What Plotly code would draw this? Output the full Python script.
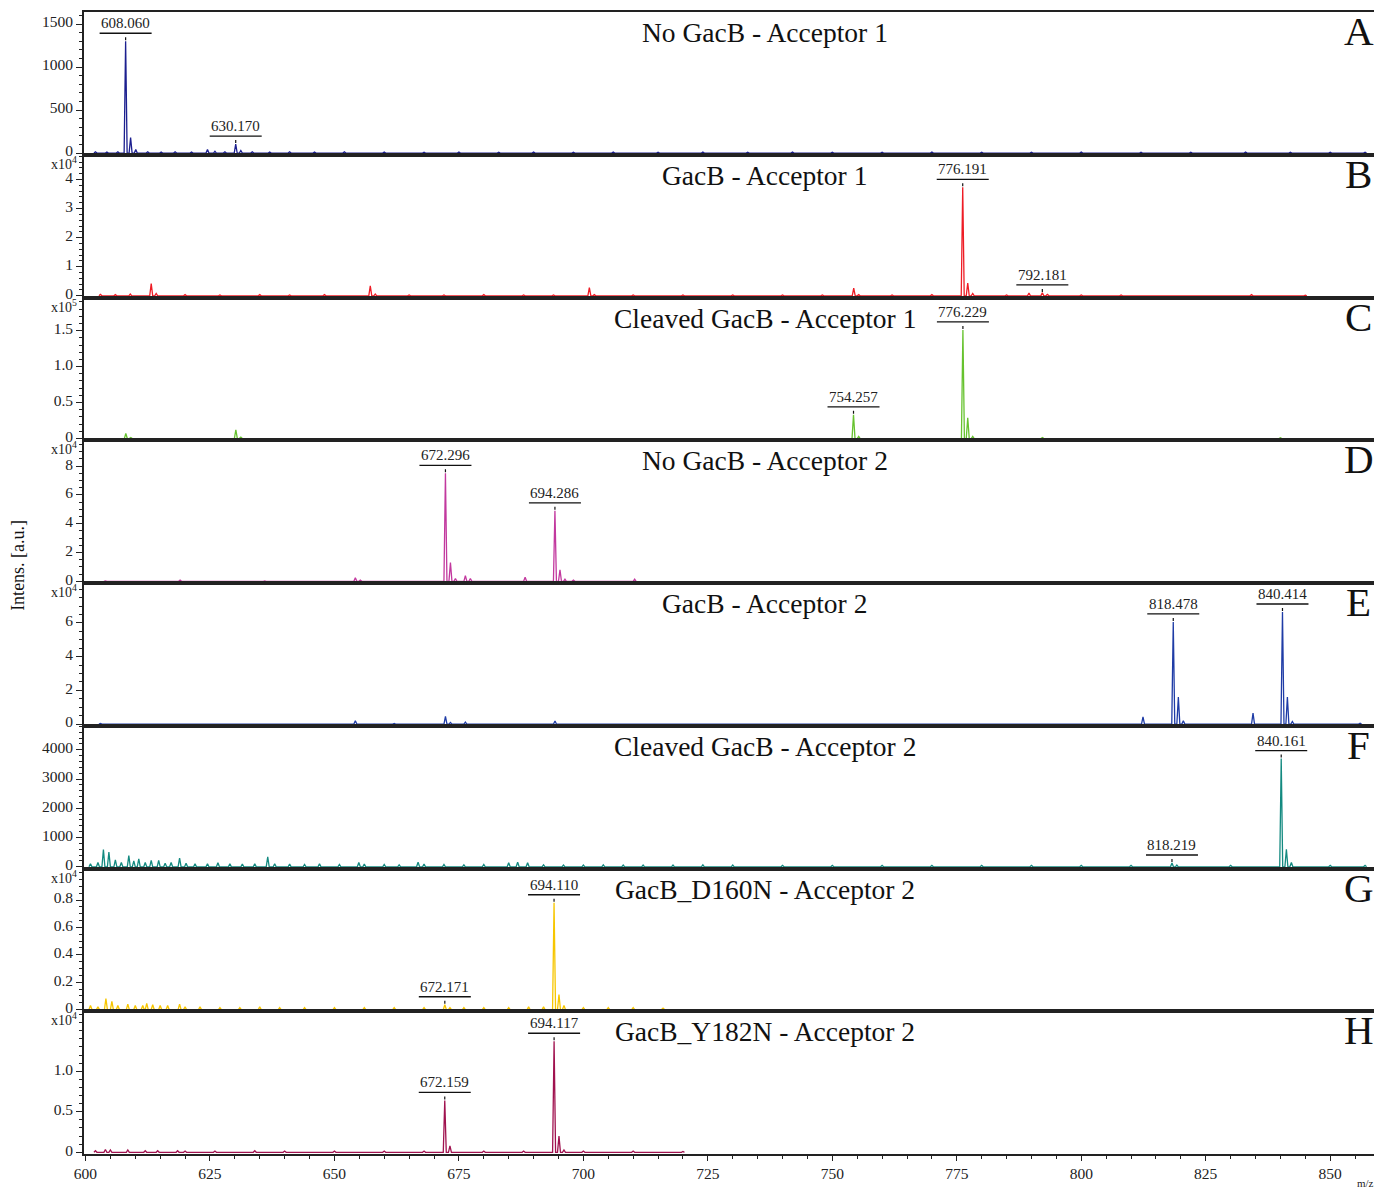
import plotly.graph_objects as go
from plotly.subplots import make_subplots

# ---------------- data ----------------
titles = ["No GacB - Acceptor 1", "GacB - Acceptor 1", "Cleaved GacB - Acceptor 1",
          "No GacB - Acceptor 2", "GacB - Acceptor 2", "Cleaved GacB - Acceptor 2",
          "GacB_D160N - Acceptor 2", "GacB_Y182N - Acceptor 2"]
letters = ["A", "B", "C", "D", "E", "F", "G", "H"]
colors = ["#1c1f8f", "#ee1c25", "#66c22e", "#c2389e", "#1f3ca6", "#138a80", "#f7c600", "#a0124f"]

a_mz = [602.0, 604.3, 606.5, 608.06, 609.06, 610.1, 612.5, 615.2, 618.0, 621.3, 624.5, 626.0, 628.0,
        630.17, 631.2, 633.5, 637.0, 641.0, 646.0, 652.0, 660.0, 668.0, 675.0, 683.0, 690.0, 698.0,
        706.0, 715.0, 724.0, 733.0, 742.0, 750.0, 760.0, 770.0, 780.0, 790.0, 800.0, 812.0, 822.0,
        833.0, 842.0, 850.0, 857.0]
a_int = [15, 12, 15, 1300, 180, 40, 15, 12, 15, 12, 40, 20, 15, 105, 30, 15, 12, 15, 12, 15, 12, 10,
         12, 10, 12, 10, 12, 10, 12, 10, 12, 10, 10, 12, 10, 10, 12, 10, 10, 12, 10, 10, 10]

b_mz = [603, 606, 609, 613.2, 614.2, 620, 627, 635, 641, 648, 657.2, 658.2, 665, 672, 680, 688, 694,
        701.2, 702.2, 710, 720, 730, 740, 748, 754.3, 755.3, 762, 770, 776.191, 777.2, 778.2, 785,
        789.5, 792.181, 793.2, 800, 808, 820, 834.2, 845]
b_int = [500, 400, 600, 4200, 800, 400, 300, 400, 300, 400, 3400, 600, 300, 300, 400, 300, 300, 2800,
         400, 300, 300, 300, 300, 300, 2600, 400, 300, 400, 37300, 4400, 800, 300, 900, 1000, 500,
         300, 300, 200, 400, 200]

c_mz = [608.1, 609.1, 630.2, 631.2, 754.257, 755.3, 776.229, 777.2, 778.2, 792.2, 840]
c_int = [7000, 1500, 12000, 2000, 33000, 3000, 151000, 29000, 3000, 1500, 1000]

d_mz = [604, 619, 636, 654.2, 655.2, 672.296, 673.3, 674.3, 676.3, 677.3, 688.3, 694.286, 695.3,
        696.3, 698, 710.3]
d_int = [300, 800, 300, 2500, 800, 75000, 13000, 2000, 4000, 2000, 2800, 49000, 8000, 1500, 800, 1500]

e_mz = [603, 605, 614, 624, 630, 636, 645, 654.2, 662, 672.3, 673.3, 676.3, 694.3, 701, 812.4,
        818.478, 819.5, 820.5, 834.5, 840.414, 841.4, 842.4, 856]
e_int = [400, 400, 400, 300, 400, 400, 300, 2000, 300, 4500, 1000, 1200, 1800, 300, 4300, 60600,
         16000, 2000, 6500, 66500, 16000, 1500, 500]

f_mz = [601, 602.5, 603.6, 604.7, 606, 607.2, 608.7, 609.7, 610.7, 612, 613.2, 614.7, 616, 617.2,
        618.9, 620.2, 622, 624.5, 626.6, 629, 631.5, 634, 636.6, 638, 641, 644, 647, 651, 654.9, 656,
        660, 663, 666.8, 668, 672, 676, 680, 685, 686.8, 688.8, 692, 696, 700, 704, 708, 712, 718,
        724, 730, 740, 750, 760, 770, 780, 790, 800, 810, 818.219, 819.2, 830, 840.161, 841.2, 842.2,
        850, 857]
f_int = [100, 150, 590, 500, 240, 150, 380, 200, 270, 150, 220, 220, 120, 150, 300, 120, 100, 100,
         140, 100, 90, 100, 340, 100, 90, 80, 100, 80, 150, 90, 80, 70, 160, 90, 80, 70, 80, 140, 160,
         140, 70, 60, 60, 70, 60, 60, 60, 70, 60, 50, 50, 50, 50, 50, 50, 50, 50, 130, 60, 50, 3700,
         600, 150, 50, 50]

g_mz = [601, 602.5, 604.1, 605.3, 606.5, 608.5, 610, 611.5, 612.3, 613.5, 615, 616.5, 618.9, 620,
        623, 627, 631, 635, 639, 644, 650, 656, 662, 668, 672.171, 673.2, 676, 680, 685, 689, 692,
        694.110, 695.1, 696.1, 700, 705, 710, 716]
g_int = [300, 200, 800, 600, 300, 400, 300, 300, 450, 350, 300, 300, 400, 200, 200, 150, 150, 200,
         150, 150, 150, 150, 150, 150, 350, 150, 150, 150, 150, 200, 200, 7800, 1100, 300, 150, 150,
         150, 100]

h_mz = [602, 604, 605, 608.5, 612, 614.5, 618.5, 620, 626, 634, 640, 650, 660, 668, 672.159, 673.2,
        680, 688, 694.117, 695.1, 696.1, 700, 710, 720]
h_int = [200, 350, 300, 300, 200, 200, 200, 150, 150, 200, 150, 150, 150, 150, 6400, 800, 150, 150,
         13700, 2000, 300, 150, 150, 100]

spectra_mz = [a_mz, b_mz, c_mz, d_mz, e_mz, f_mz, g_mz, h_mz]
spectra_int = [a_int, b_int, c_int, d_int, e_int, f_int, g_int, h_int]

labelled_mz = [[608.060, 630.170], [776.191, 792.181], [754.257, 776.229], [672.296, 694.286],
               [818.478, 840.414], [818.219, 840.161], [672.171, 694.110], [672.159, 694.117]]

y_max = [1640, 48500, 196000, 98000, 83700, 4820, 10300, 17400]
y_scale = [1, 1e4, 1e5, 1e4, 1e4, 1, 1e4, 1e4]
y_exp = ["", "4", "5", "4", "4", "", "4", "4"]
y_ticklabels = [["0", "500", "1000", "1500"], ["0", "1", "2", "3", "4"], ["0", "0.5", "1.0", "1.5"],
                ["0", "2", "4", "6", "8"], ["0", "2", "4", "6"], ["0", "1000", "2000", "3000", "4000"],
                ["0", "0.2", "0.4", "0.6", "0.8"], ["0", "0.5", "1.0"]]
y_minor = [100, 2000, 10000, 5000, 5000, 200, 500, 1000]

x_ticks = [600, 625, 650, 675, 700, 725, 750, 775, 800, 825, 850]
x_range = [599.7, 859.6]

# ---------------- figure ----------------
SERIF = "Liberation Serif"
fig = make_subplots(rows=8, cols=1, shared_xaxes=True, vertical_spacing=0)

for i in range(8):
    row = i + 1
    xs, ys = [], []
    for mz, it in zip(spectra_mz[i], spectra_int[i]):
        xs += [mz - 0.3, mz, mz + 0.3]
        ys += [0, it, 0]
    fig.add_trace(go.Scatter(x=xs, y=ys, mode="lines", line=dict(color=colors[i], width=1.3),
                             hoverinfo="skip", showlegend=False), row=row, col=1)

    tickvals = [float(t) * y_scale[i] for t in y_ticklabels[i]]
    fig.update_yaxes(row=row, col=1, range=[-0.012 * y_max[i], y_max[i]], tickvals=tickvals,
                     ticktext=y_ticklabels[i], ticks="outside", ticklen=6, tickwidth=1.3,
                     tickcolor="#222", showline=True, linecolor="#222", linewidth=1.6, mirror=True,
                     showgrid=False, zeroline=False, ticklabelshift=-2,
                     tickfont=dict(family=SERIF, size=15.5, color="#222"),
                     minor=dict(dtick=y_minor[i], ticks="outside", ticklen=3, tickwidth=1,
                                tickcolor="#222", tick0=0, showgrid=False))
    last = (row == 8)
    fig.update_xaxes(row=row, col=1, range=x_range, showline=True, linecolor="#222", linewidth=1.6,
                     mirror=True, showgrid=False, zeroline=False,
                     tickvals=x_ticks if last else [], ticks="outside" if last else "",
                     ticklen=5, tickwidth=1.3, tickcolor="#222", showticklabels=last,
                     tickfont=dict(family=SERIF, size=15.5, color="#222"),
                     minor=dict(dtick=5, tick0=600, ticks="outside" if last else "", ticklen=3,
                                tickwidth=1, tickcolor="#222", showgrid=False))

    suffix = "" if row == 1 else str(row)
    xr, yr = "x" + suffix, "y" + suffix

    # title and panel letter
    fig.add_annotation(text=titles[i], xref="paper", x=0.526, xanchor="center",
                       yref=yr + " domain", y=1, yanchor="top", yshift=-3, showarrow=False,
                       font=dict(family=SERIF, size=27.5, color="#111"))
    fig.add_annotation(text=letters[i], xref="paper", x=0.985, xanchor="center",
                       yref=yr + " domain", y=1, yanchor="top", yshift=6, showarrow=False,
                       font=dict(family=SERIF, size=41, color="#111"))
    if y_exp[i]:
        fig.add_annotation(text="x10<sup>" + y_exp[i] + "</sup>", xref="paper", x=0, xanchor="right",
                           xshift=-5, yref=yr + " domain", y=1, yanchor="top", yshift=3,
                           showarrow=False, font=dict(family=SERIF, size=14, color="#222"))

    # peak labels
    for lm in labelled_mz[i]:
        j = min(range(len(spectra_mz[i])), key=lambda k: abs(spectra_mz[i][k] - lm))
        it = spectra_int[i][j]
        fig.add_annotation(text="%.3f" % lm, x=lm, y=it, xref=xr, yref=yr, yanchor="bottom",
                           yshift=8, showarrow=False,
                           font=dict(family=SERIF, size=15, color="#222"))
        fig.add_shape(type="line", xref=xr, yref=yr, xsizemode="pixel", xanchor=lm, x0=-26, x1=26,
                      ysizemode="pixel", yanchor=it, y0=8, y1=8,
                      line=dict(color="#111", width=1.3))
        fig.add_shape(type="line", xref=xr, yref=yr, xsizemode="pixel", xanchor=lm, x0=0, x1=0,
                      ysizemode="pixel", yanchor=it, y0=1, y1=6,
                      line=dict(color="#111", width=1.2, dash="dot"))

fig.add_annotation(text="Intens. [a.u.]", textangle=-90, xref="paper", x=0, xanchor="center",
                   xshift=-66, yref="paper", y=0.515, showarrow=False,
                   font=dict(family=SERIF, size=18, color="#111"))
fig.add_annotation(text="m/z", xref="paper", x=0.99, xanchor="center", yref="paper", y=0,
                   yanchor="top", yshift=-21, showarrow=False,
                   font=dict(family=SERIF, size=11, color="#222"))

# page body adds an 8px offset; compensate so the plot area lands at 84..1378 x 10..1154
fig.update_layout(width=1374, height=1183, margin=dict(l=76, r=4, t=2, b=37),
                  paper_bgcolor="white", plot_bgcolor="white", showlegend=False)

fig.write_html("out.html")
